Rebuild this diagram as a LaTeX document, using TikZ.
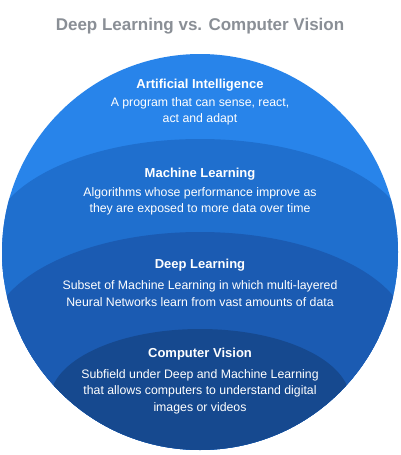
\documentclass[tikz,border=0pt]{standalone}
\usepackage{fontspec}
\setmainfont{Liberation Sans}
\usetikzlibrary{positioning}
\definecolor{TitleGray}{RGB}{138,143,150}
\definecolor{AIBlue}{RGB}{40,132,234}
\definecolor{MLBlue}{RGB}{31,111,206}
\definecolor{DLBlue}{RGB}{27,91,178}
\definecolor{CVBlue}{RGB}{22,73,143}
\tikzset{
  heading/.style={text=white,inner sep=0pt,
    font=\fontsize{13}{16}\selectfont\bfseries},
  blurb/.style={text=white,inner sep=0pt,align=center,
    font=\fontsize{12.3}{16.5}\selectfont},
  band/.style={fill=#1,draw=none}
}

\begin{document}
\begin{tikzpicture}[x=1pt,y=-1pt]
\useasboundingbox[fill=white] (0,0) rectangle (400,455);

\node[text=TitleGray,font=\fontsize{17}{20}\selectfont\bfseries] (title) at (200,26)
  {Deep Learning vs. Computer Vision};

% outer disc and the nested layers
\fill[AIBlue] (200,252) circle (198);
\begin{scope}
\clip (200,252) circle (198);
\fill[band=MLBlue] (200,242) ellipse [x radius=210,y radius=103];
\fill[band=MLBlue] (-10,242) rectangle (410,460);
\fill[band=DLBlue] (200,337) ellipse [x radius=210,y radius=105];
\fill[band=DLBlue] (-10,337) rectangle (410,460);
\fill[band=CVBlue] (200,400) ellipse [x radius=150,y radius=71];
\end{scope}

\node[heading] (ai) at (200,85) {Artificial Intelligence};
\node[blurb,below=6pt of ai] (aiDesc)
  {A program that can sense, react,\\act and adapt};

\node[heading] (ml) at (200,174) {Machine Learning};
\node[blurb,below=7pt of ml] (mlDesc)
  {Algorithms whose performance improve as\\they are exposed to more data over time};

\node[heading] (dl) at (200,265) {Deep Learning};
\node[blurb,below=9.5pt of dl] (dlDesc)
  {Subset of Machine Learning in which multi-layered\\Neural Networks learn from vast amounts of data};

\node[heading] (cv) at (200,354) {Computer Vision};
\node[blurb,below=9pt of cv] (cvDesc)
  {Subfield under Deep and Machine Learning\\that allows computers to understand digital\\images or videos};

\end{tikzpicture}
\end{document}
